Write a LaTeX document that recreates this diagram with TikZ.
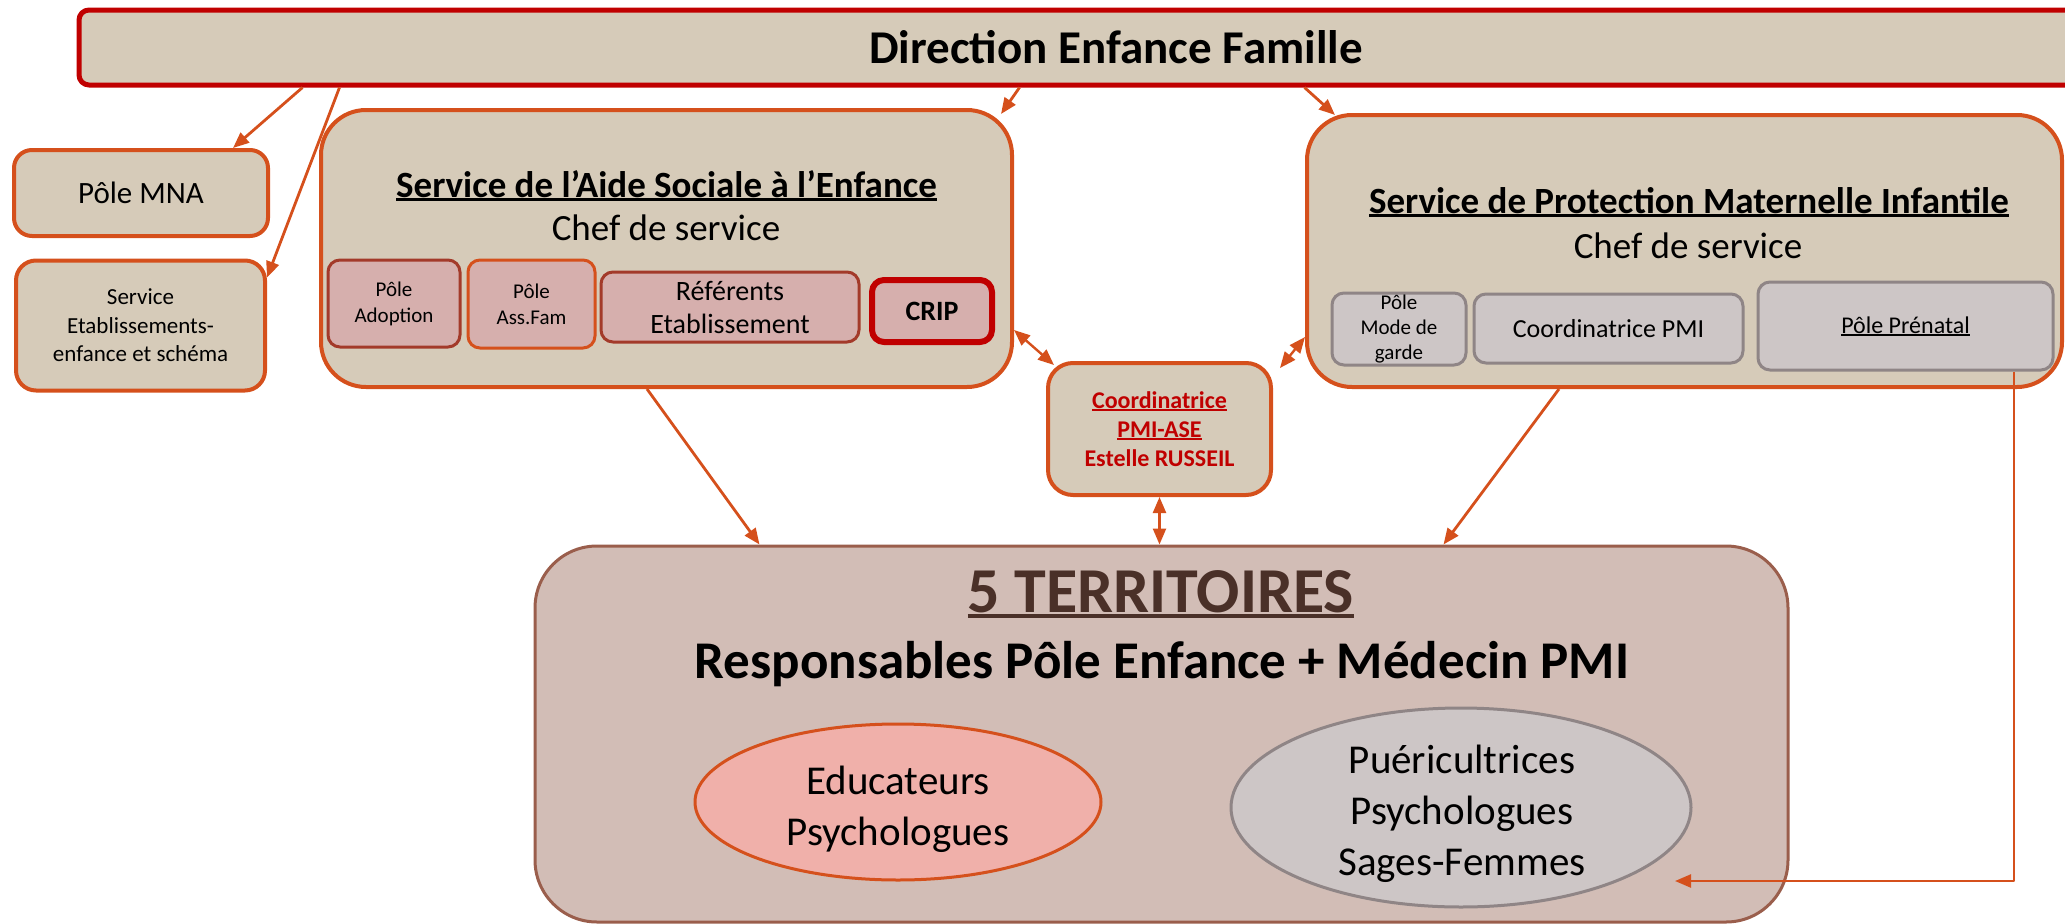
\documentclass[tikz,border=0pt]{standalone}
\usepackage{fontspec}
\setmainfont{Carlito}
\usepackage{tikz}
\usetikzlibrary{arrows.meta,shapes.geometric}

\definecolor{beige}{HTML}{D6CBB9}
\definecolor{rougeb}{HTML}{C00000}
\definecolor{orangeb}{HTML}{D5501C}
\definecolor{roseb}{HTML}{D6AFAD}
\definecolor{bordeaux}{HTML}{A33A2A}
\definecolor{grisf}{HTML}{CDC6C6}
\definecolor{grisb}{HTML}{8F8586}
\definecolor{terref}{HTML}{D2BDB6}
\definecolor{terreb}{HTML}{9A5E4C}
\definecolor{brun}{HTML}{4A3028}
\definecolor{saumon}{HTML}{F0B0AA}

\newcommand{\taille}[2]{\fontsize{#1}{#2}\selectfont}
\newsavebox{\ulsave}
\newcommand{\ulbox}[1]{\sbox{\ulsave}{#1}\rlap{\rule[-0.1em]{\wd\ulsave}{0.065em}}\usebox{\ulsave}}

\begin{document}
\begin{tikzpicture}[x=1pt,y=-1pt,>={Triangle[length=16pt,width=13pt]},line join=round,
    boite/.style={draw=orangeb,fill=beige,line width=4pt,inner sep=0pt,
                  rounded corners=#1},
    boite/.default=20pt,
    petit/.style={rounded corners=12pt,line width=3pt,inner sep=0pt,align=center},
    fleche/.style={->,draw=orangeb,line width=2.8pt},
    fleche2/.style={<->,draw=orangeb,line width=2.4pt}]

  \useasboundingbox (0,0) rectangle (2065,924);

  % direction
  \node[boite=10pt,draw=rougeb,line width=5pt,minimum width=2074pt,
        minimum height=75pt,font=\taille{47}{50}\bfseries]
        (dir) at (1116,47.5) {Direction Enfance Famille};

  % colonne de gauche
  \node[boite=18pt,minimum width=254pt,minimum height=86pt,
        font=\taille{31}{34}] (mna) at (141,193) {Pôle MNA};
  \node[boite=20pt,align=center,minimum width=249pt,minimum height=130pt,
        font=\taille{23}{28.5}] (etab) at (140.5,325.5)
        {Service\\Etablissements-\\enfance et schéma};

  % service ASE
  \node[boite=45pt,minimum width=691pt,minimum height=277pt]
        (ase) at (666.5,248.5) {};
  \node[anchor=base,font=\taille{37}{40}\bfseries] (ase-titre) at (666.5,197)
        {\ulbox{Service de l’Aide Sociale à l’Enfance}};
  \node[anchor=base,font=\taille{37}{40}] (ase-chef) at (666,240) {Chef de service};
  \node[petit,draw=bordeaux,fill=roseb,minimum width=132pt,minimum height=87pt,
        font=\taille{21}{26}] (adoption) at (394,303.5) {Pôle\\Adoption};
  \node[petit,draw=orangeb,fill=roseb,minimum width=127pt,minimum height=88pt,
        font=\taille{21}{26}] (assfam) at (531.5,304) {Pôle\\Ass.Fam};
  \node[petit,draw=bordeaux,fill=roseb,minimum width=258pt,minimum height=70pt,
        font=\taille{28}{33}] (referents) at (730,307) {Référents\\Etablissement};
  \node[petit,draw=rougeb,line width=6pt,fill=roseb,minimum width=120pt,
        minimum height=62pt,font=\taille{28}{30}\bfseries] (crip) at (932,311) {CRIP};

  % service PMI
  \node[boite=45pt,minimum width=755pt,minimum height=272pt]
        (pmi) at (1684.5,251) {};
  \node[anchor=base,font=\taille{37}{40}\bfseries] (pmi-titre) at (1689,213)
        {\ulbox{Service de Protection Maternelle Infantile}};
  \node[anchor=base,font=\taille{37}{40}] (pmi-chef) at (1688,258) {Chef de service};
  \node[petit,draw=grisb,fill=grisf,minimum width=134pt,minimum height=72pt,
        font=\taille{21}{25}] (garde) at (1399,329) {Pôle\\Mode de\\garde};
  \node[petit,draw=grisb,fill=grisf,minimum width=269pt,minimum height=69pt,
        font=\taille{26}{30}] (coordpmi) at (1608.5,328.5) {Coordinatrice PMI};
  \node[petit,draw=grisb,fill=grisf,minimum width=295pt,minimum height=88pt,
        font=\taille{24}{28}] (prenatal) at (1905.5,326) {\ulbox{Pôle Prénatal}};

  % coordinatrice
  \node[boite=25pt,align=center,text=rougeb,minimum width=223pt,
        minimum height=132pt,font=\taille{24}{29}\bfseries] (coord) at (1159.5,429)
        {\ulbox{Coordinatrice}\\\ulbox{PMI-ASE}\\Estelle RUSSEIL};

  % territoires
  \node[draw=terreb,fill=terref,line width=3pt,rounded corners=62pt,
        minimum width=1253pt,minimum height=376pt] (terr) at (1161.5,734) {};
  \node[anchor=base,text=brun,font=\taille{64}{70}\bfseries]
        (terr-titre) at (1161,612) {\ulbox{5 TERRITOIRES}};
  \node[anchor=base,font=\taille{53}{60}\bfseries] (responsables) at (1162,678)
        {Responsables Pôle Enfance + Médecin PMI};
  \node[ellipse,draw=orangeb,fill=saumon,line width=3pt,
        minimum width=406pt,minimum height=156pt] (educ) at (898,802) {};
  \node[align=center,font=\taille{41}{51}] (educ-texte) at (898,809)
        {Educateurs\\Psychologues};
  \node[ellipse,draw=grisb,fill=grisf,line width=3pt,
        minimum width=460pt,minimum height=199pt] (puer) at (1461,807.5) {};
  \node[align=center,font=\taille{41}{51}] (puer-texte) at (1462,814)
        {Puéricultrices\\Psychologues\\Sages-Femmes};

  \coordinate (prenatal-fin) at (1675,881);

  % liens
  \draw[fleche] ([xshift=226pt]dir.south west) -- ([xshift=221pt]mna.north west);
  \draw[fleche] ([xshift=263pt]dir.south west) -- ([yshift=-19pt]etab.north east);
  \draw[fleche] ([xshift=943pt]dir.south west) -- ([xshift=-13pt,yshift=-6pt]ase.north east);
  \draw[fleche] ([xshift=1228pt]dir.south west) -- ([xshift=30pt,yshift=-2pt]pmi.north west);
  \draw[fleche2] ([yshift=59pt]ase.south east) -- ([xshift=8pt,yshift=-4pt]coord.north west);
  \draw[fleche2] ([yshift=52pt]pmi.south west) -- ([xshift=7pt,yshift=-7pt]coord.north east);
  \draw[fleche2] (coord.south) -- (coord.south |- terr.north);
  \draw[fleche] ([xshift=-19.5pt]ase.south) -- ([xshift=226pt]terr.north west);
  \draw[fleche] ([xshift=-125.5pt]pmi.south) -- ([xshift=-346pt]terr.north east);
  \draw[fleche,line width=2.4pt] ([xshift=108.5pt]prenatal.south) |- (prenatal-fin);
\end{tikzpicture}
\end{document}
